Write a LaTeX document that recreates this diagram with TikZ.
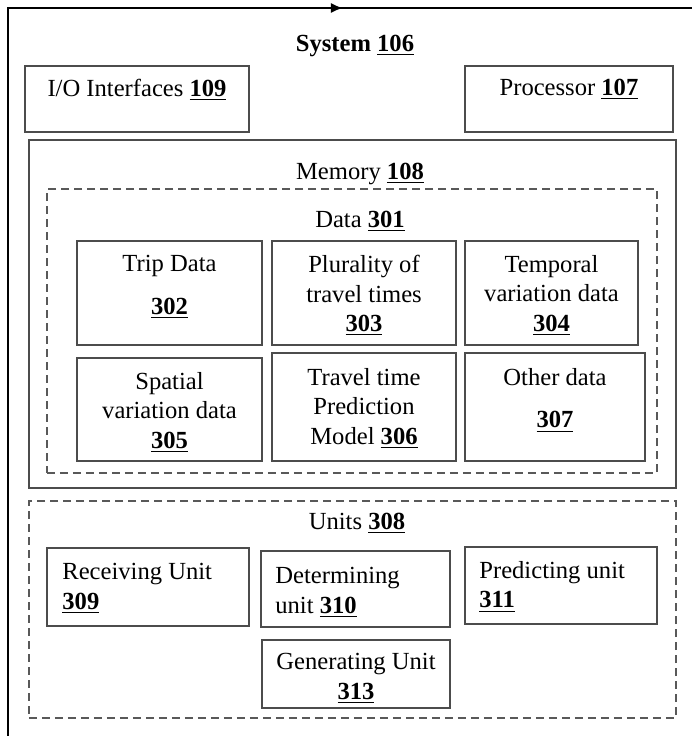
\documentclass[tikz,border=0pt]{standalone}
\usepackage{fontspec}
\setmainfont{Liberation Serif}
\usetikzlibrary{arrows.meta,fit}

\newcommand{\refnum}[1]{\underline{\textbf{#1}}}

\tikzset{
    box/.style={draw=black!70, line width=0.75pt, inner sep=0pt},
    dashbox/.style={box, draw=black!65, dash pattern=on 4pt off 2.5pt},
    lbl/.style={inner sep=0pt, align=center, anchor=north, yshift=-1pt,
        font=\fontsize{12.3}{14.75}\selectfont},
    lbll/.style={lbl, align=left, anchor=north west}
}

\begin{document}
\begin{tikzpicture}[x=0.5pt,y=-0.5pt]
    \useasboundingbox (0,0) rectangle (692,736);

    % Outer system frame, cut off at the right and bottom
    \coordinate (sysbl) at (8,736);
    \coordinate (systr) at (692,8);
    \draw[black, line width=1pt] (sysbl) |- (systr);

    % Incoming arrow on the top edge
    \coordinate (arrfrom) at (318,8);
    \coordinate (arrto) at (343,8);
    \draw[black, line width=1pt, -{Latex[length=6pt,width=5pt]}] (arrfrom) -- (arrto);

    \node[lbl] (system) at (355,33) {\textbf{System \refnum{106}}};

    % Top row
    \node[box, fit={(25,66) (249,132)}] (io) {};
    \node[lbl] (iotxt) at (137,77) {I/O Interfaces \refnum{109}};
    \node[box, fit={(465,66) (673,132)}] (proc) {};
    \node[lbl] (proctxt) at (569,77) {Processor \refnum{107}};

    % Memory with data
    \node[box, fit={(29,140) (676,488)}] (mem) {};
    \node[lbl] (memtxt) at (360,161) {Memory \refnum{108}};
    \node[dashbox, fit={(47,189) (657,473)}] (data) {};
    \node[lbl] (datatxt) at (360,209) {Data \refnum{301}};

    \node[box, fit={(77,241) (262,345)}] (trip) {};
    \node[lbl] (triptxt) at (169.5,253) {Trip Data\\[6.75pt]\refnum{302}};
    \node[box, fit={(272,241) (456,345)}] (plur) {};
    \node[lbl] (plurtxt) at (364,253) {Plurality of\\travel times\\\refnum{303}};
    \node[box, fit={(465,241) (638,345)}] (temp) {};
    \node[lbl] (temptxt) at (551.5,253) {Temporal\\variation data\\\refnum{304}};

    \node[box, fit={(77,358) (262,461)}] (spat) {};
    \node[lbl] (spattxt) at (169.5,370) {Spatial\\variation data\\\refnum{305}};
    \node[box, fit={(272,353) (456,461)}] (model) {};
    \node[lbl] (modeltxt) at (364,366) {Travel time\\Prediction\\Model \refnum{306}};
    \node[box, fit={(465,353) (645,461)}] (other) {};
    \node[lbl] (othertxt) at (555,366) {Other data\\[6.5pt]\refnum{307}};

    % Units
    \node[dashbox, fit={(29,501) (676,718)}] (units) {};
    \node[lbl] (unitstxt) at (357,511) {Units \refnum{308}};

    \node[box, fit={(47,548) (249,626)}] (recv) {};
    \node[lbll] (recvtxt) at (62,561) {Receiving Unit\\\refnum{309}};
    \node[box, fit={(261,551) (450,627)}] (det) {};
    \node[lbll] (dettxt) at (275,565) {Determining\\unit \refnum{310}};
    \node[box, fit={(465,547) (657,624)}] (pred) {};
    \node[lbll] (predtxt) at (479,559) {Predicting unit\\\refnum{311}};
    \node[box, fit={(262,640) (450,708)}] (gen) {};
    \node[lbl] (gentxt) at (356,651) {Generating Unit\\\refnum{313}};
\end{tikzpicture}
\end{document}
